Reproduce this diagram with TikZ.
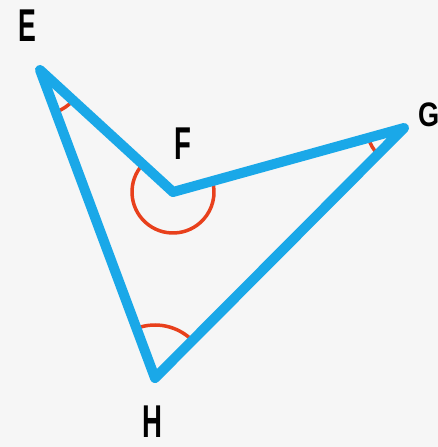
\documentclass[tikz,border=0pt]{standalone}
\usepackage{fontspec}
\setmainfont{Liberation Sans}
\definecolor{lineblue}{HTML}{1AA8E8}
\definecolor{arcred}{HTML}{E8401C}
\definecolor{bg}{HTML}{F6F6F6}
\begin{document}
\begin{tikzpicture}[x=1pt,y=1pt,
  side/.style={draw=lineblue,line width=10pt,line join=round,line cap=round},
  anglemark/.style={draw=arcred,line width=3.5pt},
  lab/.style={font=\bfseries\fontsize{46}{46}\selectfont,inner sep=0pt,anchor=center}]
\fill[bg] (0,0) rectangle (438,447);
\useasboundingbox (0,0) rectangle (438,447);
\coordinate (E) at (40,377);
\coordinate (F) at (173,255);
\coordinate (G) at (404,319);
\coordinate (H) at (155,69);
% angle marks
\draw[anglemark] ([shift={(-69.5:45pt)}]E) arc[start angle=-69.5,end angle=-42.5,radius=45pt];
\draw[anglemark] ([shift={(137.5:41pt)}]F) arc[start angle=137.5,end angle=375.5,radius=41pt];
\draw[anglemark] ([shift={(195.5:37pt)}]G) arc[start angle=195.5,end angle=225.1,radius=37pt];
\draw[anglemark] ([shift={(45.1:53pt)}]H) arc[start angle=45.1,end angle=110.5,radius=53pt];
% sides
\draw[side] (E) -- (F) -- (G) -- (H) -- cycle;
% labels
\node[lab] (lE) at (27,421) {\scalebox{0.58}[1]{E}};
\node[lab] (lF) at (183,303) {\scalebox{0.6}[1]{F}};
\node[lab,font=\bfseries\fontsize{34}{34}\selectfont,anchor=west] (lG) at (418,332) {\scalebox{0.8}[1]{G}};
\node[lab] (lH) at (152,25) {\scalebox{0.6}[1]{H}};
\end{tikzpicture}
\end{document}
